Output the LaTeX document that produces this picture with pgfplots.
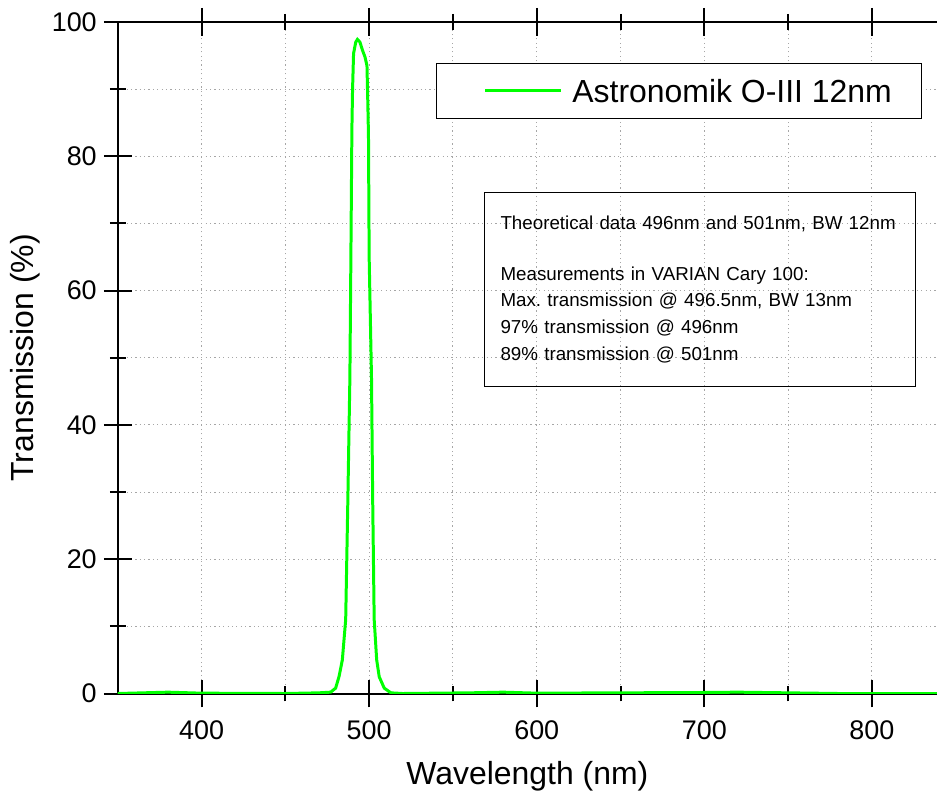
\documentclass[border=0pt]{standalone}
\usepackage{fontspec}
\setmainfont{Liberation Sans}
\usepackage{pgfplots}
\pgfplotsset{compat=1.18}

\definecolor{filtergreen}{RGB}{0,255,0}

\begin{document}
\frenchspacing
\begin{tikzpicture}
\begin{axis}[
    scale only axis,
    width=410.5pt,
    height=336.5pt,
    xmin=350, xmax=838.8,
    ymin=0, ymax=100,
    axis x line=box,
    axis y line=left,
    y axis line style={-},
    axis line style={line width=1pt},
    xtick={400,500,600,700,800},
    ytick={0,20,40,60,80,100},
    minor x tick num=1,
    minor y tick num=1,
    tick align=center,
    major tick length=14pt,
    minor tick length=8pt,
    every tick/.style={black,line width=1pt},
    grid=both,
    grid style={gray!70,line width=0.5pt,dash pattern=on 0.6pt off 1.6pt},
    major grid style={gray!70,line width=0.5pt,dash pattern=on 0.6pt off 1.6pt},
    /pgf/number format/assume math mode=true,
    tick label style={font=\fontsize{13.5}{15}\selectfont},
    xticklabel style={yshift=-3pt},
    label style={font=\fontsize{16}{19}\selectfont},
    xlabel={Wavelength (nm)},
    ylabel={Transmission (\%)},
    xlabel style={at={(axis description cs:0.5,-0.1233)},anchor=center},
    ylabel style={at={(axis description cs:-0.1133,0.5)},anchor=center},
    legend style={at={(axis description cs:0.3886,0.939)},anchor=north west,
        draw=black,line width=0.6pt,inner xsep=15pt,inner ysep=8pt,
        column sep=5pt,
        nodes={inner sep=0pt,text height=11.5pt,text depth=0pt,
            font=\fontsize{16}{19}\selectfont}},
    legend image code/.code={\path (0pt,0pt); \draw[#1] (8.5pt,0pt) -- (46.5pt,0pt);},
]
\addplot[color=filtergreen,line width=1.5pt] coordinates {
    (350,0) (380,0.2) (400,0.05) (450,0) (470,0.1) (477,0.2)
    (480,0.8) (482,2.5) (484,5) (486,11) (487.3,29) (488.5,47)
    (489.1,65) (489.7,84) (490.1,90) (490.7,95.3) (492,97) (493,97.4)
    (494.5,97) (496,95.8) (497.5,94.8) (498.7,93.5) (499.2,88) (499.6,83)
    (500,65) (501.4,47) (502.1,29) (503,11) (504.5,5) (506,2.5)
    (509,0.8) (513,0.1) (520,0) (560,0.1) (580,0.2) (600,0.05)
    (700,0.15) (720,0.2) (780,0) (850,0)
};
\addlegendentry{Astronomik O-III 12nm}

\node[draw=black,line width=0.6pt,anchor=north west,
      minimum width=216pt,minimum height=97.5pt,
      text width=200pt,inner xsep=8pt,align=left,
      font=\fontsize{9.4}{13.3}\selectfont]
  at (axis description cs:0.447,0.7474)
  {Theoretical data 496nm and 501nm, BW 12nm\\[12pt]
   Measurements in VARIAN Cary 100:\\
   Max. transmission @ 496.5nm, BW 13nm\\
   97\% transmission @ 496nm\\
   89\% transmission @ 501nm};

\coordinate (SW) at (rel axis cs:0,0);
\coordinate (NE) at (rel axis cs:1,1);
\end{axis}
\pgfresetboundingbox
\path[use as bounding box] ([shift={(-59pt,-53.5pt)}]SW) rectangle ([shift={(0pt,11pt)}]NE);
\end{tikzpicture}
\end{document}
